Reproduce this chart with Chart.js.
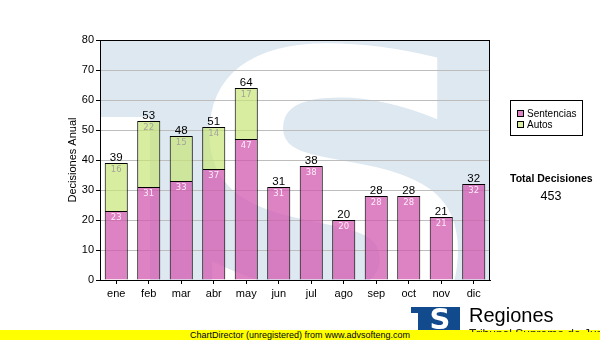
<!DOCTYPE html>
<html>
<head>
<meta charset="utf-8">
<script src="https://cdn.jsdelivr.net/npm/chart.js@4.4.0/dist/chart.umd.min.js"></script>
<style>
  html, body { margin: 0; padding: 0; background: #fff; width: 600px; height: 340px; overflow: hidden; }
  body { font-family: "Liberation Sans", Arial, sans-serif; color: #000; }
  #wrap { position: relative; width: 600px; height: 340px; }
  #chart { position: absolute; left: 0; top: 0; }
  .legend { position: absolute; left: 510px; top: 100px; width: 71px; height: 34px; border: 1px solid #000; background: #fff; }
  .legend .sw { position: absolute; left: 6px; width: 5px; height: 5px; border: 1px solid #000; }
  .legend .lbl { position: absolute; left: 16px; font-size: 10px; line-height: 11px; white-space: nowrap; }
  .total-title { position: absolute; left: 510px; top: 172px; font-size: 10.5px; font-weight: bold; line-height: 12px; white-space: nowrap; }
  .total-value { position: absolute; left: 510px; width: 82px; top: 189px; font-size: 12.5px; line-height: 14px; text-align: center; }
  .footer { position: absolute; left: 0; top: 330px; width: 600px; height: 10px; background: #ffff00; }
  .footer span { position: absolute; left: 190px; top: 0; font-size: 9px; line-height: 10px; white-space: nowrap; }
  .logo { position: absolute; left: 410px; top: 306px; }
  .brand { position: absolute; left: 469px; top: 305px; font-size: 20px; line-height: 20px; white-space: nowrap; }
  .sub { position: absolute; left: 469px; top: 329px; height: 3px; width: 131px; overflow: hidden; }
  .sub span { position: absolute; left: 0; top: -1px; font-size: 12px; line-height: 12px; white-space: nowrap; color: #222; }
</style>
</head>
<body>
<div id="wrap">
  <canvas id="chart" width="600" height="340"></canvas>
  <div class="legend">
    <div class="sw" style="top:9px;background:#dd83c3"></div>
    <div class="lbl" style="top:7px">Sentencias</div>
    <div class="sw" style="top:20px;background:#d9eea0"></div>
    <div class="lbl" style="top:18px">Autos</div>
  </div>
  <div class="total-title">Total Decisiones</div>
  <div class="total-value" id="total"></div>
  <div class="footer"><span>ChartDirector (unregistered) from www.advsofteng.com</span></div>
  <svg class="logo" width="52" height="25" viewBox="0 0 52 25">
    <rect x="1" y="1" width="14" height="6" fill="#124a8e"/>
    <rect x="8" y="1" width="42" height="23" fill="#124a8e"/>
    <text x="30" y="23" text-anchor="middle" font-family="DejaVu Sans" font-weight="bold" font-size="29" fill="#fff">S</text>
  </svg>
  <div class="brand">Regiones</div>
  <div class="sub"><span>Tribunal Supremo de Justicia</span></div>
</div>
<script>
// Decisiones por mes
const meses = ['ene', 'feb', 'mar', 'abr', 'may', 'jun', 'jul', 'ago', 'sep', 'oct', 'nov', 'dic'];
const sentencias = [23, 31, 33, 37, 47, 31, 38, 20, 28, 28, 21, 32];
const autos = [16, 22, 15, 14, 17, 0, 0, 0, 0, 0, 0, 0];
const yTicks = [0, 10, 20, 30, 40, 50, 60, 70, 80];

const totales = meses.map((_, i) => sentencias[i] + autos[i]);
document.getElementById('total').textContent = totales.reduce((a, b) => a + b, 0);

// Light-blue emblem with a large white "S" behind the plot
const emblem = {
  id: 'emblem',
  beforeDraw(chart) {
    const { ctx, chartArea: a } = chart;
    const w = a.right - a.left, h = a.bottom - a.top;
    ctx.save();
    ctx.beginPath();
    ctx.rect(a.left, a.top, w, h);
    ctx.clip();
    ctx.fillStyle = '#dee8f1';
    ctx.fillRect(a.left, a.top, w, h);
    ctx.fillStyle = '#ffffff';
    ctx.fillRect(a.left, a.top + 77, 50, h);
    ctx.translate(a.left + 234, a.top + 300);
    ctx.scale(1.08, 1);
    ctx.font = 'bold 400px "DejaVu Sans"';
    ctx.textAlign = 'center';
    ctx.textBaseline = 'alphabetic';
    ctx.fillText('S', 0, 0);
    ctx.restore();
  }
};

// Frame around the plot area
const frame = {
  id: 'frame',
  afterDatasetsDraw(chart) {
    const { ctx, chartArea: a } = chart;
    ctx.save();
    ctx.strokeStyle = '#000';
    ctx.lineWidth = 1;
    ctx.strokeRect(Math.round(a.left) + 0.5, Math.round(a.top) + 0.5,
                   Math.round(a.right - a.left) - 1, Math.round(a.bottom - a.top));
    ctx.restore();
  }
};

// Segment values inside the bars and totals above them
const valueLabels = {
  id: 'valueLabels',
  afterDraw(chart) {
    const { ctx } = chart;
    const mS = chart.getDatasetMeta(0);
    const mA = chart.getDatasetMeta(1);
    const y = chart.scales.y;
    ctx.save();
    ctx.textAlign = 'center';
    meses.forEach((_, i) => {
      const bs = mS.data[i];
      const ba = mA.data[i];
      ctx.font = '8.5px "DejaVu Sans"';
      ctx.textBaseline = 'top';
      ctx.fillStyle = 'rgba(255,240,250,0.95)';
      ctx.fillText(String(sentencias[i]), bs.x, y.getPixelForValue(sentencias[i]) + 3);
      if (autos[i] > 0) {
        ctx.fillStyle = '#a4a49a';
        ctx.fillText(String(autos[i]), ba.x, y.getPixelForValue(totales[i]) + 3);
      }
      ctx.font = '11.5px "Liberation Sans"';
      ctx.textBaseline = 'alphabetic';
      ctx.fillStyle = '#000';
      ctx.fillText(String(totales[i]), bs.x, y.getPixelForValue(totales[i]) - 2);
    });
    ctx.restore();
  }
};

new Chart(document.getElementById('chart'), {
  type: 'bar',
  data: {
    labels: meses,
    datasets: [
      {
        label: 'Sentencias',
        data: sentencias,
        backgroundColor: 'rgba(210, 90, 175, 0.75)',
        borderColor: '#000',
        borderWidth: 1,
        borderSkipped: 'start'
      },
      {
        label: 'Autos',
        data: autos.map(v => (v > 0 ? v : null)),
        backgroundColor: 'rgba(200, 230, 120, 0.7)',
        borderColor: '#000',
        borderWidth: 1,
        borderSkipped: 'start'
      }
    ]
  },
  options: {
    responsive: false,
    animation: false,
    devicePixelRatio: 1,
    layout: { padding: { left: 62, right: 110, top: 40, bottom: 0 } },
    plugins: { legend: { display: false }, tooltip: { enabled: false } },
    datasets: { bar: { barPercentage: 0.71, categoryPercentage: 1 } },
    scales: {
      x: {
        stacked: true,
        afterFit(s) { s.height = 60; },
        grid: { display: true, drawOnChartArea: false, offset: false, tickLength: 4, tickColor: '#000' },
        border: { display: true, color: '#000' },
        ticks: { color: '#000', padding: 3, font: { family: 'Liberation Sans', size: 11 } }
      },
      y: {
        stacked: true,
        min: 0,
        max: 80,
        afterFit(s) { s.width = 38; },
        afterBuildTicks(s) { s.ticks = yTicks.map(v => ({ value: v })); },
        grid: { color: '#bdbdbd', tickLength: 4, tickColor: '#000' },
        border: { display: true, color: '#000' },
        ticks: { color: '#000', padding: 2, font: { family: 'Liberation Sans', size: 11 } },
        title: {
          display: true,
          text: 'Decisiones Anual',
          color: '#000',
          padding: { top: 4, bottom: 0 },
          font: { family: 'Liberation Sans', size: 11 }
        }
      }
    }
  },
  plugins: [emblem, frame, valueLabels]
});
</script>
</body>
</html>
